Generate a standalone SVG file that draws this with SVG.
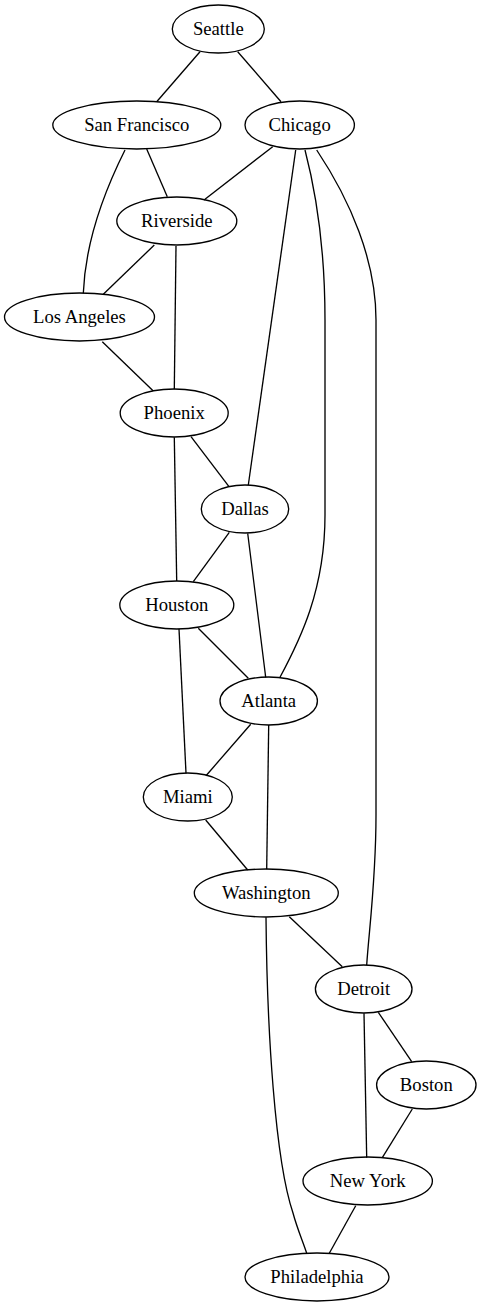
<svg xmlns="http://www.w3.org/2000/svg" width="481" height="1307" viewBox="0 0 481 1307">
<style>
.node ellipse{fill:none;stroke:#000;stroke-width:1.33}
.node text{font-family:"Liberation Serif","Times New Roman",serif;font-size:18.67px;text-anchor:middle;fill:#000}
.edges path{fill:none;stroke:#000;stroke-width:1.33}
</style>
<rect width="481" height="1307" fill="#fff"/>
<g class="edges">
<path d="M200,51.7 L156.7,101.7"/>
<path d="M237.7,51.7 L281,101.7"/>
<path d="M146.7,149 L167.3,196.7"/>
<path d="M125,150 C100,200 85,250 83.3,293.3"/>
<path d="M272.7,146.7 L204,200"/>
<path d="M295.7,150 L248.3,485"/>
<path d="M305,150 C318,200 325,260 325,320 L325,515 C325,590 300,640 280,677.3"/>
<path d="M316.7,150 C350,200 376,260 376,320 L376,815 C376,880 369,930 366.7,965"/>
<path d="M154.3,245 L103.3,294.3"/>
<path d="M176,246 L174.3,389.3"/>
<path d="M102.3,341.7 L153.3,391"/>
<path d="M191,436.7 L229,486.7"/>
<path d="M174.3,437.3 L176.7,581"/>
<path d="M229.3,532.3 L193.3,581.7"/>
<path d="M247.7,533.3 L265.7,677.3"/>
<path d="M198.3,628.3 L248.3,678.3"/>
<path d="M179,629 L186,773.3"/>
<path d="M250.7,724.3 L206,775.7"/>
<path d="M268.7,725 L266.7,869.3"/>
<path d="M205.7,820 L247.7,870"/>
<path d="M289.3,916.7 L342.3,966.7"/>
<path d="M266,917.3 C267,1030 275,1160 293,1213 C297,1228 303,1242 306.7,1253.3"/>
<path d="M378.3,1012.3 L411.7,1061.7"/>
<path d="M364,1013.3 L366.7,1157.7"/>
<path d="M412.3,1109 L382.3,1157.7"/>
<path d="M355.7,1205.7 L329.3,1253.3"/>
</g>
<g id="seattle" class="node"><ellipse cx="218.3" cy="29" rx="46" ry="24"/><text x="218.3" y="35">Seattle</text></g>
<g id="sanfrancisco" class="node"><ellipse cx="136.8" cy="125" rx="84" ry="24"/><text x="136.8" y="131">San Francisco</text></g>
<g id="chicago" class="node"><ellipse cx="299.7" cy="125" rx="54.7" ry="24"/><text x="299.7" y="131">Chicago</text></g>
<g id="riverside" class="node"><ellipse cx="176.8" cy="221" rx="60" ry="24"/><text x="176.8" y="227">Riverside</text></g>
<g id="losangeles" class="node"><ellipse cx="79.5" cy="317" rx="75" ry="24"/><text x="79.5" y="323">Los Angeles</text></g>
<g id="phoenix" class="node"><ellipse cx="174.2" cy="413" rx="54" ry="24"/><text x="174.2" y="419">Phoenix</text></g>
<g id="dallas" class="node"><ellipse cx="245" cy="509" rx="43.7" ry="24"/><text x="245" y="515">Dallas</text></g>
<g id="houston" class="node"><ellipse cx="176.8" cy="605" rx="57" ry="24"/><text x="176.8" y="611">Houston</text></g>
<g id="atlanta" class="node"><ellipse cx="268.7" cy="701" rx="48.7" ry="24"/><text x="268.7" y="707">Atlanta</text></g>
<g id="miami" class="node"><ellipse cx="187.8" cy="797" rx="44.5" ry="24"/><text x="187.8" y="803">Miami</text></g>
<g id="washington" class="node"><ellipse cx="266.3" cy="893" rx="72" ry="24"/><text x="266.3" y="899">Washington</text></g>
<g id="detroit" class="node"><ellipse cx="363.7" cy="989" rx="48.3" ry="24"/><text x="363.7" y="995">Detroit</text></g>
<g id="boston" class="node"><ellipse cx="426.3" cy="1085" rx="49.7" ry="24"/><text x="426.3" y="1091">Boston</text></g>
<g id="newyork" class="node"><ellipse cx="367.7" cy="1181" rx="64.7" ry="24"/><text x="367.7" y="1187">New York</text></g>
<g id="philadelphia" class="node"><ellipse cx="317" cy="1277" rx="72" ry="24"/><text x="317" y="1283">Philadelphia</text></g>
</svg>
